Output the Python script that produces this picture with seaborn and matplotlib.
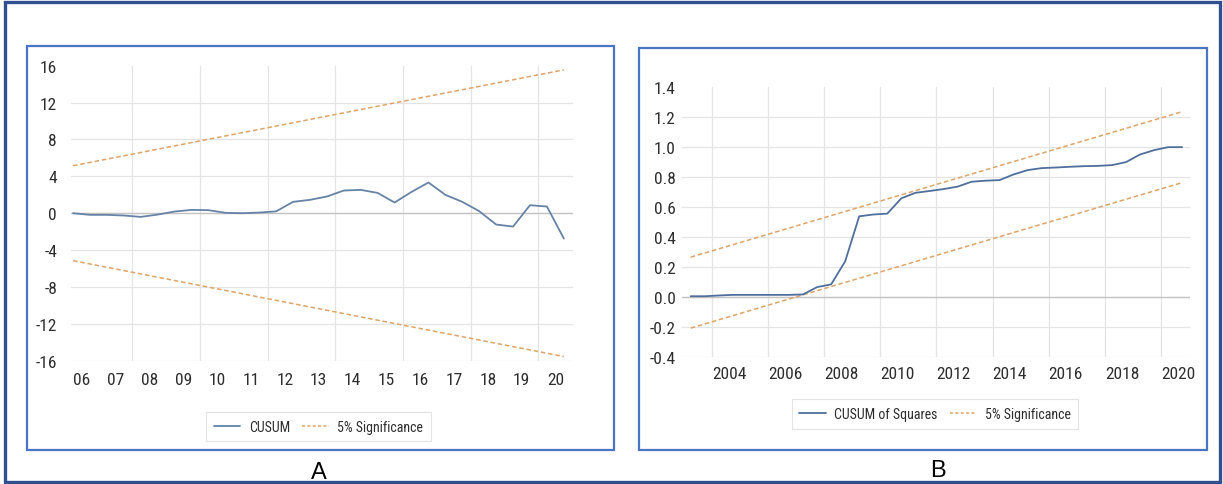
import numpy as np
import matplotlib
matplotlib.use("Agg")
import matplotlib.pyplot as plt
from matplotlib import font_manager
from matplotlib.patches import Rectangle
from matplotlib.ticker import FixedLocator
from matplotlib.lines import Line2D
import seaborn as sns

# ---- data -------------------------------------------------------------
# Panel A: recursive CUSUM, semi-annual observations 2006H1 .. 2020H2
cusum_start, cusum_step = 2006.0, 0.5
cusum_values = [0.0, -0.18, -0.18, -0.25, -0.40, -0.15, 0.18, 0.36, 0.33, 0.04,
                0.0, 0.07, 0.20, 1.23, 1.45, 1.81, 2.46, 2.53, 2.20, 1.16,
                2.31, 3.33, 1.99, 1.23, 0.22, -1.23, -1.45, 0.87, 0.72, -2.75]
cusum_band_x = [2006.0, 2020.5]
cusum_upper = [5.15, 15.55]
cusum_lower = [-5.15, -15.55]
cusum_yticks = [-16, -12, -8, -4, 0, 4, 8, 12, 16]
cusum_xticks = list(range(2006, 2021))
cusum_xlabels = ["06", "07", "08", "09", "10", "11", "12", "13", "14",
                 "15", "16", "17", "18", "19", "20"]

# Panel B: CUSUM of squares, semi-annual observations 2003H2 .. 2020H2
sq_start, sq_step = 2003.25, 0.5
sq_values = [0.004, 0.004, 0.009, 0.013, 0.013, 0.013, 0.013, 0.013, 0.016,
             0.065, 0.083, 0.237, 0.538, 0.550, 0.556, 0.658, 0.695, 0.707,
             0.720, 0.736, 0.769, 0.776, 0.780, 0.818, 0.847, 0.860, 0.864,
             0.869, 0.873, 0.875, 0.880, 0.900, 0.951, 0.980, 1.000, 1.000]
sq_band_x = [2003.25, 2020.75]
sq_upper = [0.265, 1.237]
sq_lower = [-0.209, 0.763]
sq_yticks = [-0.4, -0.2, 0.0, 0.2, 0.4, 0.6, 0.8, 1.0, 1.2, 1.4]
sq_xticks = list(range(2004, 2021, 2))
sq_xlabels = [str(y) for y in sq_xticks]

cusum_x = cusum_start + cusum_step * np.arange(len(cusum_values))
sq_x = sq_start + sq_step * np.arange(len(sq_values))

# ---- style ------------------------------------------------------------
sns.set_theme(style="white")
available = {f.name for f in font_manager.fontManager.ttflist}
narrow = next((f for f in ["Liberation Sans Narrow", "Roboto Condensed",
                           "Open Sans Condensed", "Noto Sans", "DejaVu Sans"]
               if f in available), "DejaVu Sans")
plt.rcParams["font.family"] = [narrow, "DejaVu Sans"]

LINE_A = "#6683a6"
LINE_B = "#4f6f9c"
BAND = "#e0a468"
GRID = "#e4e4e4"
ZERO = "#c4c4c4"
TEXT = "#2e2e2e"
BOX = "#4a74c4"
FRAME = "#2f4f8f"

W, H = 1223, 485
fig = plt.figure(figsize=(W / 100, H / 100), dpi=100)
fig.patch.set_facecolor("white")


def fx(px):
    return px / W


def fy(py):
    return 1 - py / H


def panel_box(x0, y0, x1, y1):
    fig.patches.append(Rectangle((fx(x0), fy(y1)), fx(x1 - x0), (y1 - y0) / H,
                                 transform=fig.transFigure, fill=False,
                                 edgecolor=BOX, linewidth=1.6, zorder=5))


def style_axes(ax):
    for s in ax.spines.values():
        s.set_visible(False)
    ax.tick_params(axis="both", length=0, colors=TEXT, labelsize=12.5)
    ax.set_xlabel("")
    ax.set_ylabel("")
    ax.axhline(0, color=ZERO, linewidth=1.0, zorder=1)


def add_legend(ax, line_color, label, center):
    leg = ax.legend(
        handles=[Line2D([], [], color=line_color, linewidth=1.3),
                 Line2D([], [], color=BAND, linewidth=1.1,
                        linestyle=(0, (2, 1.5)))],
        labels=[label, "5% Significance"],
        loc="center", bbox_to_anchor=(fx(center[0]), fy(center[1])),
        bbox_transform=fig.transFigure, ncol=2, frameon=True, fancybox=False,
        fontsize=10, handlelength=1.9, columnspacing=0.9, handletextpad=0.6,
        borderpad=0.55, borderaxespad=0)
    leg.get_frame().set_edgecolor("#dcdcdc")
    leg.get_frame().set_linewidth(0.8)
    for t in leg.get_texts():
        t.set_color(TEXT)
    return leg


# ---- panel A ----------------------------------------------------------
axA = fig.add_axes([fx(71), fy(361.7), fx(573 - 71), (361.7 - 66.7) / H])
sns.lineplot(x=cusum_band_x, y=cusum_upper, ax=axA, color=BAND, linewidth=1.1,
             linestyle=(0, (3, 1.8)), zorder=3)
sns.lineplot(x=cusum_band_x, y=cusum_lower, ax=axA, color=BAND, linewidth=1.1,
             linestyle=(0, (3, 1.8)), zorder=3)
sns.lineplot(x=cusum_x, y=cusum_values, ax=axA, color=LINE_A, linewidth=1.3,
             zorder=4)
axA.set_xlim(2005.94, 2020.77)
axA.set_ylim(-16, 16)
axA.set_yticks(cusum_yticks)
axA.set_yticklabels([str(v) for v in cusum_yticks])
axA.set_xticks(cusum_xticks)
axA.set_xticklabels(cusum_xlabels, ha="left")
axA.xaxis.set_minor_locator(FixedLocator(np.arange(2007.75, 2020, 2.0)))
style_axes(axA)
axA.tick_params(axis="y", pad=10)
axA.tick_params(axis="x", pad=8)
axA.grid(False, axis="x", which="major")
axA.grid(True, axis="x", which="minor", color=GRID, linewidth=0.9)
axA.grid(True, axis="y", which="major", color=GRID, linewidth=0.9)
axA.tick_params(axis="x", which="minor", length=0)
axA.yaxis.get_gridlines()[-1].set_visible(False)
axA.set_axisbelow(True)
add_legend(axA, LINE_A, "CUSUM", (318.5, 427.7))
panel_box(27, 46.7, 614, 451)

# ---- panel B ----------------------------------------------------------
axB = fig.add_axes([fx(682), fy(357.7), fx(1190 - 682), (357.7 - 88.3) / H])
sns.lineplot(x=sq_band_x, y=sq_upper, ax=axB, color=BAND, linewidth=1.1,
             linestyle=(0, (3, 1.8)), zorder=3)
sns.lineplot(x=sq_band_x, y=sq_lower, ax=axB, color=BAND, linewidth=1.1,
             linestyle=(0, (3, 1.8)), zorder=3)
sns.lineplot(x=sq_x, y=sq_values, ax=axB, color=LINE_B, linewidth=1.3,
             zorder=4)
axB.set_xlim(2002.94, 2021.03)
axB.set_ylim(-0.4, 1.4)
axB.set_yticks(sq_yticks)
axB.set_yticklabels([f"{v:.1f}" for v in sq_yticks])
axB.set_xticks(sq_xticks)
axB.set_xticklabels(sq_xlabels, ha="left")
style_axes(axB)
axB.tick_params(axis="y", pad=4.5)
axB.tick_params(axis="x", pad=6.5)
axB.grid(True, which="major", color=GRID, linewidth=0.9)
axB.yaxis.get_gridlines()[-1].set_visible(False)
axB.set_axisbelow(True)
add_legend(axB, LINE_B, "CUSUM of Squares", (935, 415))
panel_box(638.5, 49.3, 1207, 450.7)

# ---- panel letters and outer frame ------------------------------------
fig.text(fx(319), fy(473), "A", ha="center", va="center", fontsize=17,
         color="black", family=["Liberation Sans", "DejaVu Sans"])
fig.text(fx(938), fy(471.5), "B", ha="center", va="center", fontsize=17,
         color="black", family=["Liberation Sans", "DejaVu Sans"])
fig.patches.append(Rectangle((fx(5), fy(483)), fx(1220 - 5), (483 - 3) / H,
                             transform=fig.transFigure, fill=False,
                             edgecolor=FRAME, linewidth=2.4, zorder=10))

fig.savefig("out.png", dpi=100, facecolor="white")
